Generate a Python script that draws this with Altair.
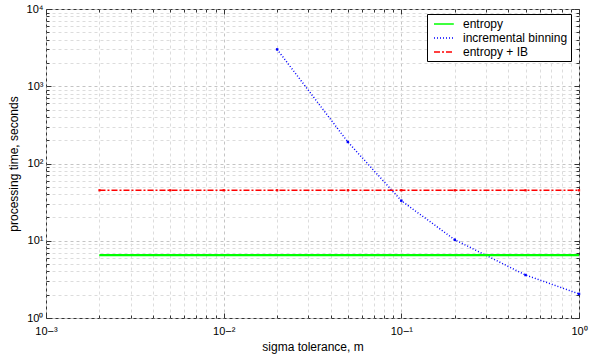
import altair as alt
import pandas as pd

# ---- data ----
sigma = [0.002, 0.005, 0.01, 0.02, 0.05, 0.1, 0.2, 0.5, 1.0]
t_entropy = [6.5, 6.5, 6.5, 6.5, 6.5, 6.5, 6.5, 6.5, 6.5]
t_ib = [None, None, None, 3000, 190, 33, 10.3, 3.6, 2.05]
t_combo = [45, 45, 45, 45, 45, 45, 45, 45, 45]

series = ["entropy", "incremental binning", "entropy + IB"]
colors = ["#00ff00", "#0000ff", "#ff0000"]
dashes = [[1, 0], [1, 2], [6, 2, 2, 2]]

x_ticks = [0.001, 0.002, 0.003, 0.004, 0.005, 0.006, 0.007, 0.008, 0.009,
           0.01, 0.02, 0.03, 0.04, 0.05, 0.06, 0.07, 0.08, 0.09,
           0.1, 0.2, 0.3, 0.4, 0.5, 0.6, 0.7, 0.8, 0.9, 1.0]
y_ticks = [1, 2, 3, 4, 5, 6, 7, 8, 9,
           10, 20, 30, 40, 50, 60, 70, 80, 90,
           100, 200, 300, 400, 500, 600, 700, 800, 900,
           1000, 2000, 3000, 4000, 5000, 6000, 7000, 8000, 9000, 10000]

rows = []
for name, vals in zip(series, [t_entropy, t_ib, t_combo]):
    for s, v in zip(sigma, vals):
        if v is not None:
            rows.append({"sigma": s, "time": v, "series": name})
df = pd.DataFrame(rows)

FONT = "Liberation Sans"
W, H = 533, 309

major = "abs(log(datum.value)/LN10 - round(log(datum.value)/LN10)) < 1e-6"
sup = ("replace(replace(replace(replace(replace(replace(replace(format(round(log(datum.value)/LN10),'d'),"
       "'-','⁻'),'0','⁰'),'1','¹'),'2','²'),'3','³'),'4','⁴'),'5','⁵')")
label_expr = f"({major}) ? '10' + {sup} : ''"

grid_color = {"condition": {"test": major, "value": "#c4c4c4"}, "value": "#dcdcdc"}
tick_size = {"condition": {"test": major, "value": 5}, "value": 3}

xs = alt.Scale(type="log", domain=[0.001, 1], nice=False)
ys = alt.Scale(type="log", domain=[1, 10000], nice=False)

legend_props = dict(title=None, orient="none", legendX=381, legendY=5,
                    fillColor="white", strokeColor="#000000",
                    padding=3, labelFont=FONT, labelFontSize=12, labelColor="black",
                    labelOffset=19, symbolType="M-0.5,0H2.8", symbolSize=144,
                    rowPadding=1, labelLimit=300)

cscale = alt.Scale(domain=series, range=colors)
color = alt.Color("series:N", scale=cscale, legend=alt.Legend(**legend_props))
dash = alt.StrokeDash("series:N", scale=alt.Scale(domain=series, range=dashes),
                      legend=alt.Legend(**legend_props))

x_main = alt.X("sigma:Q", scale=xs, title="sigma tolerance, m",
               axis=alt.Axis(values=x_ticks, labelExpr=label_expr, labelOverlap=False,
                             labelFlush=False, labelFont=FONT, labelFontSize=11,
                             labelColor="black", labelPadding=7, ticks=False, domain=False,
                             grid=True, gridColor=grid_color, gridDash=[3, 3],
                             titleFont=FONT, titleFontSize=12, titleFontWeight="normal",
                             titleColor="black", titleY=23))
y_main = alt.Y("time:Q", scale=ys, title="processing time, seconds",
               axis=alt.Axis(values=y_ticks, labelExpr=label_expr, labelOverlap=False,
                             labelFlush=False, labelFont=FONT, labelFontSize=11,
                             labelColor="black", labelPadding=3, ticks=False, domain=False,
                             grid=True, gridColor=grid_color, gridDash=[3, 3],
                             titleFont=FONT, titleFontSize=12, titleFontWeight="normal",
                             titleColor="black", titleX=-26))

base = alt.Chart(df)

lines = base.mark_line(clip=True, strokeWidth=1.5).encode(
    x=x_main, y=y_main, color=color, strokeDash=dash,
    order=alt.Order("sigma:Q"))

# the entropy curve is drawn a little heavier
green = base.transform_filter("datum.series == 'entropy'").mark_line(
    clip=True, strokeWidth=2.2, color="#00ff00").encode(
    x=alt.X("sigma:Q", scale=xs, axis=None), y=alt.Y("time:Q", scale=ys, axis=None))


def tick_axis(orient, offset, vals):
    return alt.Axis(orient=orient, offset=offset, values=vals, labels=False, grid=False,
                    domain=False, title=None, ticks=True, tickColor="#333333",
                    tickSize=tick_size, tickWidth=1)


ticks_a = base.mark_line(opacity=0).encode(
    x=alt.X("sigma:Q", scale=xs, axis=tick_axis("top", -H, x_ticks)),
    y=alt.Y("time:Q", scale=ys, axis=tick_axis("right", -W, y_ticks)),
    detail="series:N")
ticks_b = base.mark_line(opacity=0).encode(
    x=alt.X("sigma:Q", scale=xs, axis=tick_axis("bottom", -H, x_ticks)),
    y=alt.Y("time:Q", scale=ys, axis=tick_axis("left", -W, y_ticks)),
    detail="series:N")

# markers drawn last, in fixed per-series colours
pts_ib = base.transform_filter("datum.series == 'incremental binning'").mark_point(
    filled=True, shape="square", size=6, opacity=1, color="#0000ff").encode(
    x=alt.X("sigma:Q", scale=xs, axis=None), y=alt.Y("time:Q", scale=ys, axis=None))
pts_combo = base.transform_filter("datum.series == 'entropy + IB'").mark_point(
    filled=True, shape="square", size=5, opacity=1, color="#ff0000").encode(
    x=alt.X("sigma:Q", scale=xs, axis=None), y=alt.Y("time:Q", scale=ys, axis=None))

chart = alt.layer(lines, green, ticks_a, ticks_b, pts_ib, pts_combo).resolve_axis(
    x="independent", y="independent"
).properties(
    width=W, height=H,
    padding={"left": 46, "top": 9, "right": 11, "bottom": 40},
    autosize=alt.AutoSizeParams(type="none"),
    background="white",
).configure_view(stroke="#333333", strokeWidth=1)

chart.save("out.html", embed_options={"renderer": "svg", "actions": False})
